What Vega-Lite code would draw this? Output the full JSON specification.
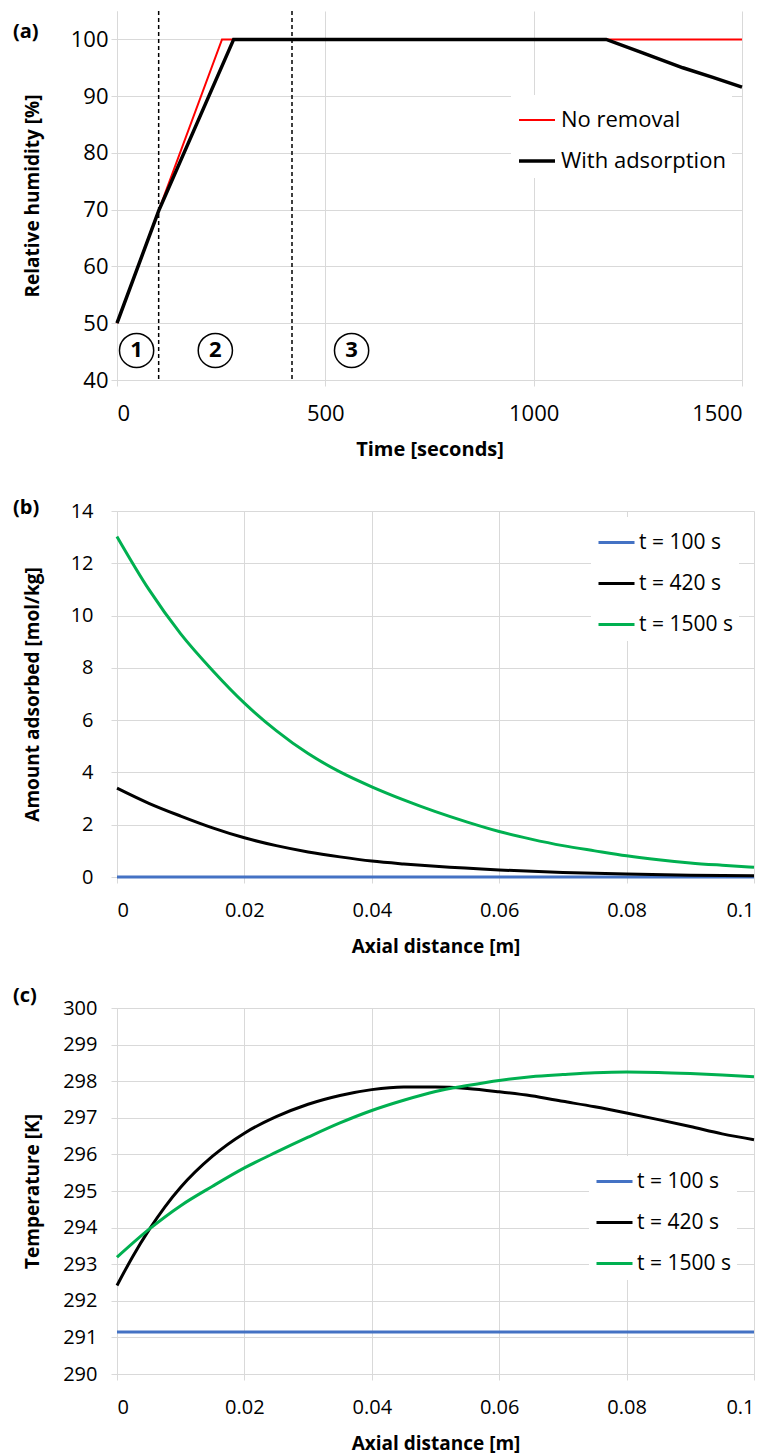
{
  "$schema": "https://vega.github.io/schema/vega-lite/v6.json",
  "background": "white",
  "padding": {"left": 13, "top": 10, "right": 5, "bottom": 5},
  "bounds": "flush",
  "spacing": 131,
  "resolve": {"scale": {"color": "independent", "strokeWidth": "independent"}, "legend": {"color": "independent", "strokeWidth": "independent"}},
  "config": {
    "font": "Open Sans",
    "view": {"stroke": null},
    "axis": {
      "gridColor": "#d9d9d9", "domainColor": "#d9d9d9", "tickColor": "#d9d9d9",
      "tickSize": 6, "labelColor": "#000000", "titleColor": "#000000",
      "labelFont": "Open Sans", "titleFont": "Open Sans", "titleFontWeight": "bold",
      "titleFontSize": 19
    },
    "legend": {"labelFont": "Open Sans", "labelColor": "#000000", "labelLimit": 400}
  },
  "datasets": {
    "rh": [
      {"series": "No removal", "t": 0, "rh": 50},
      {"series": "No removal", "t": 252, "rh": 100},
      {"series": "No removal", "t": 1500, "rh": 100},
      {"series": "With adsorption", "t": 0, "rh": 50},
      {"series": "With adsorption", "t": 100, "rh": 69.8},
      {"series": "With adsorption", "t": 280, "rh": 100},
      {"series": "With adsorption", "t": 1174, "rh": 100},
      {"series": "With adsorption", "t": 1260, "rh": 97.66},
      {"series": "With adsorption", "t": 1358, "rh": 95.0},
      {"series": "With adsorption", "t": 1430, "rh": 93.3},
      {"series": "With adsorption", "t": 1500, "rh": 91.6}
    ],
    "dividers": [{"t": 100}, {"t": 420}],
    "regions": [
      {"t": 47, "y": 45.2, "label": "1"},
      {"t": 236, "y": 45.2, "label": "2"},
      {"t": 563, "y": 45.2, "label": "3"}
    ],
    "ads": [
      {"series": "t = 100 s", "d": 0, "q": 0},
      {"series": "t = 100 s", "d": 0.05, "q": 0},
      {"series": "t = 100 s", "d": 0.1, "q": 0},
      {"series": "t = 420 s", "d": 0, "q": 3.40},
      {"series": "t = 420 s", "d": 0.005, "q": 2.82},
      {"series": "t = 420 s", "d": 0.01, "q": 2.33},
      {"series": "t = 420 s", "d": 0.015, "q": 1.88},
      {"series": "t = 420 s", "d": 0.02, "q": 1.5},
      {"series": "t = 420 s", "d": 0.025, "q": 1.2},
      {"series": "t = 420 s", "d": 0.03, "q": 0.96},
      {"series": "t = 420 s", "d": 0.035, "q": 0.77},
      {"series": "t = 420 s", "d": 0.04, "q": 0.61},
      {"series": "t = 420 s", "d": 0.045, "q": 0.5},
      {"series": "t = 420 s", "d": 0.05, "q": 0.41},
      {"series": "t = 420 s", "d": 0.06, "q": 0.27},
      {"series": "t = 420 s", "d": 0.07, "q": 0.17},
      {"series": "t = 420 s", "d": 0.08, "q": 0.11},
      {"series": "t = 420 s", "d": 0.09, "q": 0.07},
      {"series": "t = 420 s", "d": 0.1, "q": 0.05},
      {"series": "t = 1500 s", "d": 0, "q": 13.02},
      {"series": "t = 1500 s", "d": 0.005, "q": 11.0},
      {"series": "t = 1500 s", "d": 0.01, "q": 9.3},
      {"series": "t = 1500 s", "d": 0.015, "q": 7.9},
      {"series": "t = 1500 s", "d": 0.02, "q": 6.65},
      {"series": "t = 1500 s", "d": 0.025, "q": 5.6},
      {"series": "t = 1500 s", "d": 0.03, "q": 4.72},
      {"series": "t = 1500 s", "d": 0.035, "q": 4.02},
      {"series": "t = 1500 s", "d": 0.04, "q": 3.45},
      {"series": "t = 1500 s", "d": 0.045, "q": 2.95},
      {"series": "t = 1500 s", "d": 0.05, "q": 2.5},
      {"series": "t = 1500 s", "d": 0.055, "q": 2.1},
      {"series": "t = 1500 s", "d": 0.06, "q": 1.74},
      {"series": "t = 1500 s", "d": 0.065, "q": 1.45},
      {"series": "t = 1500 s", "d": 0.07, "q": 1.2},
      {"series": "t = 1500 s", "d": 0.075, "q": 1.0},
      {"series": "t = 1500 s", "d": 0.08, "q": 0.81},
      {"series": "t = 1500 s", "d": 0.085, "q": 0.66},
      {"series": "t = 1500 s", "d": 0.09, "q": 0.54},
      {"series": "t = 1500 s", "d": 0.095, "q": 0.45},
      {"series": "t = 1500 s", "d": 0.1, "q": 0.37}
    ],
    "temp": [
      {"series": "t = 100 s", "d": 0, "T": 291.15},
      {"series": "t = 100 s", "d": 0.05, "T": 291.15},
      {"series": "t = 100 s", "d": 0.1, "T": 291.15},
      {"series": "t = 420 s", "d": 0, "T": 292.42},
      {"series": "t = 420 s", "d": 0.0025, "T": 293.22},
      {"series": "t = 420 s", "d": 0.005, "T": 293.93},
      {"series": "t = 420 s", "d": 0.0075, "T": 294.56},
      {"series": "t = 420 s", "d": 0.01, "T": 295.1},
      {"series": "t = 420 s", "d": 0.015, "T": 295.95},
      {"series": "t = 420 s", "d": 0.02, "T": 296.58},
      {"series": "t = 420 s", "d": 0.025, "T": 297.03},
      {"series": "t = 420 s", "d": 0.03, "T": 297.37},
      {"series": "t = 420 s", "d": 0.035, "T": 297.61},
      {"series": "t = 420 s", "d": 0.04, "T": 297.77},
      {"series": "t = 420 s", "d": 0.045, "T": 297.84},
      {"series": "t = 420 s", "d": 0.05, "T": 297.84},
      {"series": "t = 420 s", "d": 0.055, "T": 297.8},
      {"series": "t = 420 s", "d": 0.06, "T": 297.71},
      {"series": "t = 420 s", "d": 0.065, "T": 297.6},
      {"series": "t = 420 s", "d": 0.07, "T": 297.45},
      {"series": "t = 420 s", "d": 0.075, "T": 297.3},
      {"series": "t = 420 s", "d": 0.08, "T": 297.13},
      {"series": "t = 420 s", "d": 0.085, "T": 296.95},
      {"series": "t = 420 s", "d": 0.09, "T": 296.76},
      {"series": "t = 420 s", "d": 0.095, "T": 296.56},
      {"series": "t = 420 s", "d": 0.1, "T": 296.4},
      {"series": "t = 1500 s", "d": 0, "T": 293.19},
      {"series": "t = 1500 s", "d": 0.005, "T": 293.95},
      {"series": "t = 1500 s", "d": 0.01, "T": 294.6},
      {"series": "t = 1500 s", "d": 0.015, "T": 295.13},
      {"series": "t = 1500 s", "d": 0.02, "T": 295.63},
      {"series": "t = 1500 s", "d": 0.025, "T": 296.06},
      {"series": "t = 1500 s", "d": 0.03, "T": 296.47},
      {"series": "t = 1500 s", "d": 0.035, "T": 296.86},
      {"series": "t = 1500 s", "d": 0.04, "T": 297.2},
      {"series": "t = 1500 s", "d": 0.045, "T": 297.48},
      {"series": "t = 1500 s", "d": 0.05, "T": 297.72},
      {"series": "t = 1500 s", "d": 0.055, "T": 297.88},
      {"series": "t = 1500 s", "d": 0.06, "T": 298.02},
      {"series": "t = 1500 s", "d": 0.065, "T": 298.12},
      {"series": "t = 1500 s", "d": 0.07, "T": 298.18},
      {"series": "t = 1500 s", "d": 0.075, "T": 298.23},
      {"series": "t = 1500 s", "d": 0.08, "T": 298.25},
      {"series": "t = 1500 s", "d": 0.085, "T": 298.24},
      {"series": "t = 1500 s", "d": 0.09, "T": 298.21},
      {"series": "t = 1500 s", "d": 0.095, "T": 298.17},
      {"series": "t = 1500 s", "d": 0.1, "T": 298.12}
    ]
  },
  "vconcat": [
    {
      "width": 625,
      "height": 369,
      "title": {"text": "(a)", "anchor": "start", "frame": "group", "orient": "none", "offset": 0, "baseline": "middle", "dx": -104, "dy": 21, "fontSize": 20, "fontWeight": "bold", "font": "Open Sans", "color": "#000000"},
      "layer": [
        {
          "data": {"name": "rh"},
          "mark": {"type": "line"},
          "encoding": {
            "x": {"field": "t", "type": "quantitative", "scale": {"domain": [0, 1500], "nice": false},
              "axis": {"values": [0, 500, 1000, 1500], "format": "d", "labelFontSize": 22, "labelPadding": 27, "labelBaseline": "middle", "title": "Time [seconds]", "titleY": 69, "titleBaseline": "middle", "titleFontSize": 20}},
            "y": {"field": "rh", "type": "quantitative", "scale": {"domain": [40, 105], "nice": false},
              "axis": {"values": [40, 50, 60, 70, 80, 90, 100], "labelFontSize": 22, "labelPadding": 3, "title": "Relative humidity [%]", "titleX": -85, "titleBaseline": "middle"}},
            "color": {"field": "series", "type": "nominal",
              "scale": {"domain": ["No removal", "With adsorption"], "range": ["#ff0000", "#000000"]},
              "legend": {"orient": "none", "legendX": 394, "legendY": 84, "title": null, "fillColor": "white", "padding": 6, "symbolType": "stroke", "symbolSize": 1296, "symbolStrokeWidth": 3, "labelFontSize": 22, "labelOffset": 4, "rowPadding": 10}},
            "strokeWidth": {"field": "series", "type": "nominal", "scale": {"domain": ["No removal", "With adsorption"], "range": [2, 3.5]}, "legend": null}
          }
        },
        {
          "data": {"name": "dividers"},
          "mark": {"type": "rule", "strokeDash": [4, 3], "color": "#000000", "strokeWidth": 1.5},
          "encoding": {"x": {"field": "t", "type": "quantitative"}}
        },
        {
          "data": {"name": "regions"},
          "mark": {"type": "point", "shape": "circle", "size": 1170, "filled": true, "fill": "white", "stroke": "#000000", "strokeWidth": 1.5, "opacity": 1},
          "encoding": {"x": {"field": "t", "type": "quantitative"}, "y": {"field": "y", "type": "quantitative"}}
        },
        {
          "data": {"name": "regions"},
          "mark": {"type": "text", "fontSize": 22, "fontWeight": "bold", "font": "Open Sans", "color": "#000000", "baseline": "middle", "align": "center"},
          "encoding": {"x": {"field": "t", "type": "quantitative"}, "y": {"field": "y", "type": "quantitative"}, "text": {"field": "label"}}
        }
      ]
    },
    {
      "width": 637,
      "height": 366,
      "title": {"text": "(b)", "anchor": "start", "frame": "group", "orient": "none", "offset": 0, "baseline": "middle", "dx": -104, "dy": -3, "fontSize": 20, "fontWeight": "bold", "font": "Open Sans", "color": "#000000"},
      "data": {"name": "ads"},
      "mark": {"type": "line", "strokeWidth": 3, "interpolate": "monotone"},
      "encoding": {
        "x": {"field": "d", "type": "quantitative", "scale": {"domain": [0, 0.1], "nice": false},
          "axis": {"values": [0, 0.02, 0.04, 0.06, 0.08, 0.1], "format": ".2~f", "labelFontSize": 20, "labelPadding": 27, "labelBaseline": "middle", "title": "Axial distance [m]", "titleY": 69, "titleBaseline": "middle"}},
        "y": {"field": "q", "type": "quantitative", "scale": {"domain": [0, 14], "nice": false},
          "axis": {"values": [0, 2, 4, 6, 8, 10, 12, 14], "labelFontSize": 20, "labelPadding": 18, "title": "Amount adsorbed [mol/kg]", "titleX": -85, "titleBaseline": "middle"}},
        "color": {"field": "series", "type": "nominal",
          "scale": {"domain": ["t = 100 s", "t = 420 s", "t = 1500 s"], "range": ["#4472c4", "#000000", "#00b050"]},
          "legend": {"orient": "none", "legendX": 474, "legendY": 6, "title": null, "fillColor": "white", "padding": 6, "symbolType": "stroke", "symbolSize": 1296, "symbolStrokeWidth": 3, "labelFontSize": 21, "labelOffset": 3, "rowPadding": 11}}
      }
    },
    {
      "width": 637,
      "height": 366,
      "title": {"text": "(c)", "anchor": "start", "frame": "group", "orient": "none", "offset": 0, "baseline": "middle", "dx": -104, "dy": -12, "fontSize": 20, "fontWeight": "bold", "font": "Open Sans", "color": "#000000"},
      "data": {"name": "temp"},
      "mark": {"type": "line", "strokeWidth": 3, "interpolate": "monotone"},
      "encoding": {
        "x": {"field": "d", "type": "quantitative", "scale": {"domain": [0, 0.1], "nice": false},
          "axis": {"values": [0, 0.02, 0.04, 0.06, 0.08, 0.1], "format": ".2~f", "labelFontSize": 20, "labelPadding": 27, "labelBaseline": "middle", "title": "Axial distance [m]", "titleY": 69, "titleBaseline": "middle"}},
        "y": {"field": "T", "type": "quantitative", "scale": {"domain": [290, 300], "nice": false, "zero": false},
          "axis": {"values": [290, 291, 292, 293, 294, 295, 296, 297, 298, 299, 300], "labelFontSize": 20, "labelPadding": 14, "title": "Temperature [K]", "titleX": -85, "titleBaseline": "middle"}},
        "color": {"field": "series", "type": "nominal",
          "scale": {"domain": ["t = 100 s", "t = 420 s", "t = 1500 s"], "range": ["#4472c4", "#000000", "#00b050"]},
          "legend": {"orient": "none", "legendX": 472, "legendY": 148, "title": null, "fillColor": "white", "padding": 6, "symbolType": "stroke", "symbolSize": 1296, "symbolStrokeWidth": 3, "labelFontSize": 21, "labelOffset": 3, "rowPadding": 11}}
      }
    }
  ]
}
